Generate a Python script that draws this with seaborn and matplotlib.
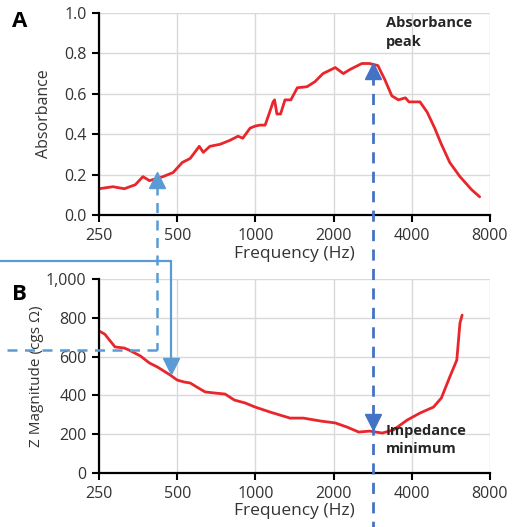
import numpy as np
import pandas as pd
import matplotlib
matplotlib.use("Agg")
import matplotlib.pyplot as plt
import seaborn as sns
from matplotlib.lines import Line2D
from matplotlib.ticker import FuncFormatter, FixedLocator

# ---------------- data ----------------
abs_freq = [250, 283, 313, 345, 369, 391, 441, 482, 523, 561, 608, 630, 668, 731, 799, 857, 894,
            954, 997, 1040, 1090, 1125, 1170, 1185, 1210, 1250, 1300, 1370, 1450, 1580, 1695, 1820,
            2030, 2180, 2310, 2570, 2750, 2960, 3150, 3350, 3550, 3780, 3900, 4300, 4580, 4900,
            5200, 5600, 6130, 6800, 7300]
abs_vals = [0.13, 0.14, 0.13, 0.15, 0.19, 0.17, 0.19, 0.21, 0.26, 0.28, 0.34, 0.31, 0.34, 0.35, 0.37, 0.39, 0.38,
            0.43, 0.44, 0.445, 0.445, 0.495, 0.56, 0.57, 0.50, 0.50, 0.57, 0.57, 0.63, 0.635, 0.66, 0.70,
            0.73, 0.70, 0.72, 0.75, 0.75, 0.74, 0.67, 0.59, 0.57, 0.58, 0.56, 0.56, 0.51, 0.43,
            0.35, 0.26, 0.19, 0.125, 0.09]

imp_freq = [250, 263, 288, 313, 326, 361, 391, 420, 470, 500, 532, 561, 595, 640, 700, 764, 830, 913,
            997, 1140, 1360, 1530, 1780, 2030, 2250, 2500, 2750, 3080, 3400, 3840, 4300, 4850,
            5200, 5600, 5960, 6130, 6250]
imp_vals = [732, 716, 650, 644, 634, 603, 567, 546, 505, 479, 469, 464, 443, 418, 412, 407, 376, 361,
            340, 314, 283, 283, 268, 258, 237, 211, 216, 206, 222, 273, 309, 340,
            387, 495, 582, 773, 814]

x_ticks = [250, 500, 1000, 2000, 4000, 8000]
abs_ticks = [0.0, 0.2, 0.4, 0.6, 0.8, 1.0]
imp_ticks = [0, 200, 400, 600, 800, 1000]

peak_freq = 2830       # Absorbance peak / impedance minimum
left_freq = 418        # light-blue dashed guide
arrow_freq = 473       # solid arrow

df_abs = pd.DataFrame({"freq": abs_freq, "absorbance": abs_vals})
df_imp = pd.DataFrame({"freq": imp_freq, "imp": imp_vals})

# ---------------- style ----------------
sns.set_theme(style="whitegrid")
plt.rcParams["font.family"] = ["Open Sans", "DejaVu Sans"]

W, H = 516, 527
fig = plt.figure(figsize=(W / 100, H / 100), dpi=100)
ax1 = fig.add_axes([99 / W, 1 - 215 / H, 391 / W, 202 / H])
ax2 = fig.add_axes([99 / W, 1 - 473 / H, 391 / W, 194 / H])

red = "#E8262B"
dark_blue = "#4472C4"
light_blue = "#5B9BD5"
txt = "#333333"

sns.lineplot(data=df_abs, x="freq", y="absorbance", ax=ax1, color=red, lw=2.0)
sns.lineplot(data=df_imp, x="freq", y="imp", ax=ax2, color=red, lw=2.0)

for ax, yt in ((ax1, abs_ticks), (ax2, imp_ticks)):
    ax.set_xscale("log", base=2)
    ax.set_xlim(250, 8000)
    ax.xaxis.set_major_locator(FixedLocator(x_ticks))
    ax.xaxis.set_minor_locator(FixedLocator([]))
    ax.xaxis.set_major_formatter(FuncFormatter(lambda v, p: f"{int(round(v))}"))
    ax.set_ylim(yt[0], yt[-1])
    ax.set_yticks(yt)
    ax.set_facecolor("white")
    ax.grid(True, color="#D9D9D9", lw=1.0)
    for s in ("top", "right"):
        ax.spines[s].set_visible(False)
    for s in ("left", "bottom"):
        ax.spines[s].set_visible(True)
        ax.spines[s].set_color("black")
        ax.spines[s].set_linewidth(1.6)
    ax.tick_params(axis="both", which="major", direction="out", length=5, width=1.5,
                   color="black", labelsize=11.5, labelcolor=txt, pad=4,
                   bottom=True, left=True)

ax1.set_xlabel("Frequency (Hz)", fontsize=12.5, color=txt, labelpad=2)
ax2.set_xlabel("Frequency (Hz)", fontsize=12.5, color=txt, labelpad=1)
ax1.yaxis.set_major_formatter(FuncFormatter(lambda v, p: f"{v:.1f}"))
ax2.yaxis.set_major_formatter(FuncFormatter(lambda v, p: f"{int(v):,}"))
ax1.set_ylabel("Absorbance", fontsize=11.5, color=txt, labelpad=9)
ax2.set_ylabel("Z Magnitude (cgs \u03a9)", fontsize=11, color=txt, labelpad=1)

fig.text(12 / W, 1 - 27 / H, "A", fontsize=16, fontweight="bold", color="black")
fig.text(12 / W, 1 - 300 / H, "B", fontsize=16, fontweight="bold", color="black")

ax1.text(3170, 0.985, "Absorbance\npeak", fontsize=10.5, fontweight="bold", color="#262626",
         va="top", ha="left", linespacing=1.45)
ax2.text(3180, 255, "Impedance\nminimum", fontsize=10.5, fontweight="bold", color="#262626",
         va="top", ha="left", linespacing=1.45, zorder=5)

# ---------------- annotation guides ----------------
fig.canvas.draw()
inv = fig.transFigure.inverted()


def fpt(ax, x, y):
    return inv.transform(ax.transData.transform((x, y)))


def fline(p0, p1, **kw):
    fig.add_artist(Line2D([p0[0], p1[0]], [p0[1], p1[1]], transform=fig.transFigure, **kw))


# dark-blue dashed vertical at the peak
p_top = fpt(ax1, peak_freq, 0.70)
p_bot = (p_top[0], 0.0)
fline(p_top, p_bot, color=dark_blue, lw=2.0, ls=(0, (4, 3)), zorder=6)
ax1.plot([peak_freq], [0.715], marker="^", ms=11, color=dark_blue, mec=dark_blue,
         clip_on=False, zorder=7)
ax2.plot([peak_freq], [262], marker="v", ms=11, color=dark_blue, mec=dark_blue,
         clip_on=False, zorder=7)

# light-blue dashed guide (top panel -> bottom panel -> left edge)
l_top = fpt(ax1, left_freq, 0.15)
l_mid = fpt(ax2, left_freq, 634)
fline(l_top, l_mid, color=light_blue, lw=1.8, ls=(0, (4, 3)), zorder=6)
fline(l_mid, (0.0, l_mid[1]), color=light_blue, lw=1.8, ls=(0, (4, 3)), zorder=6)
ax1.plot([left_freq], [0.175], marker="^", ms=11, color=light_blue, mec=light_blue,
         clip_on=False, zorder=7)

# solid light-blue arrow from left edge down into bottom panel
a_corner = fpt(ax2, arrow_freq, 1093)
a_end = fpt(ax2, arrow_freq, 570)
fline((0.0, a_corner[1]), a_corner, color=light_blue, lw=1.6, zorder=6)
fline(a_corner, a_end, color=light_blue, lw=1.6, zorder=6)
ax2.plot([arrow_freq], [552], marker="v", ms=11, color=light_blue, mec=light_blue,
         clip_on=False, zorder=7)

fig.savefig("out.png", dpi=100, facecolor="white")
